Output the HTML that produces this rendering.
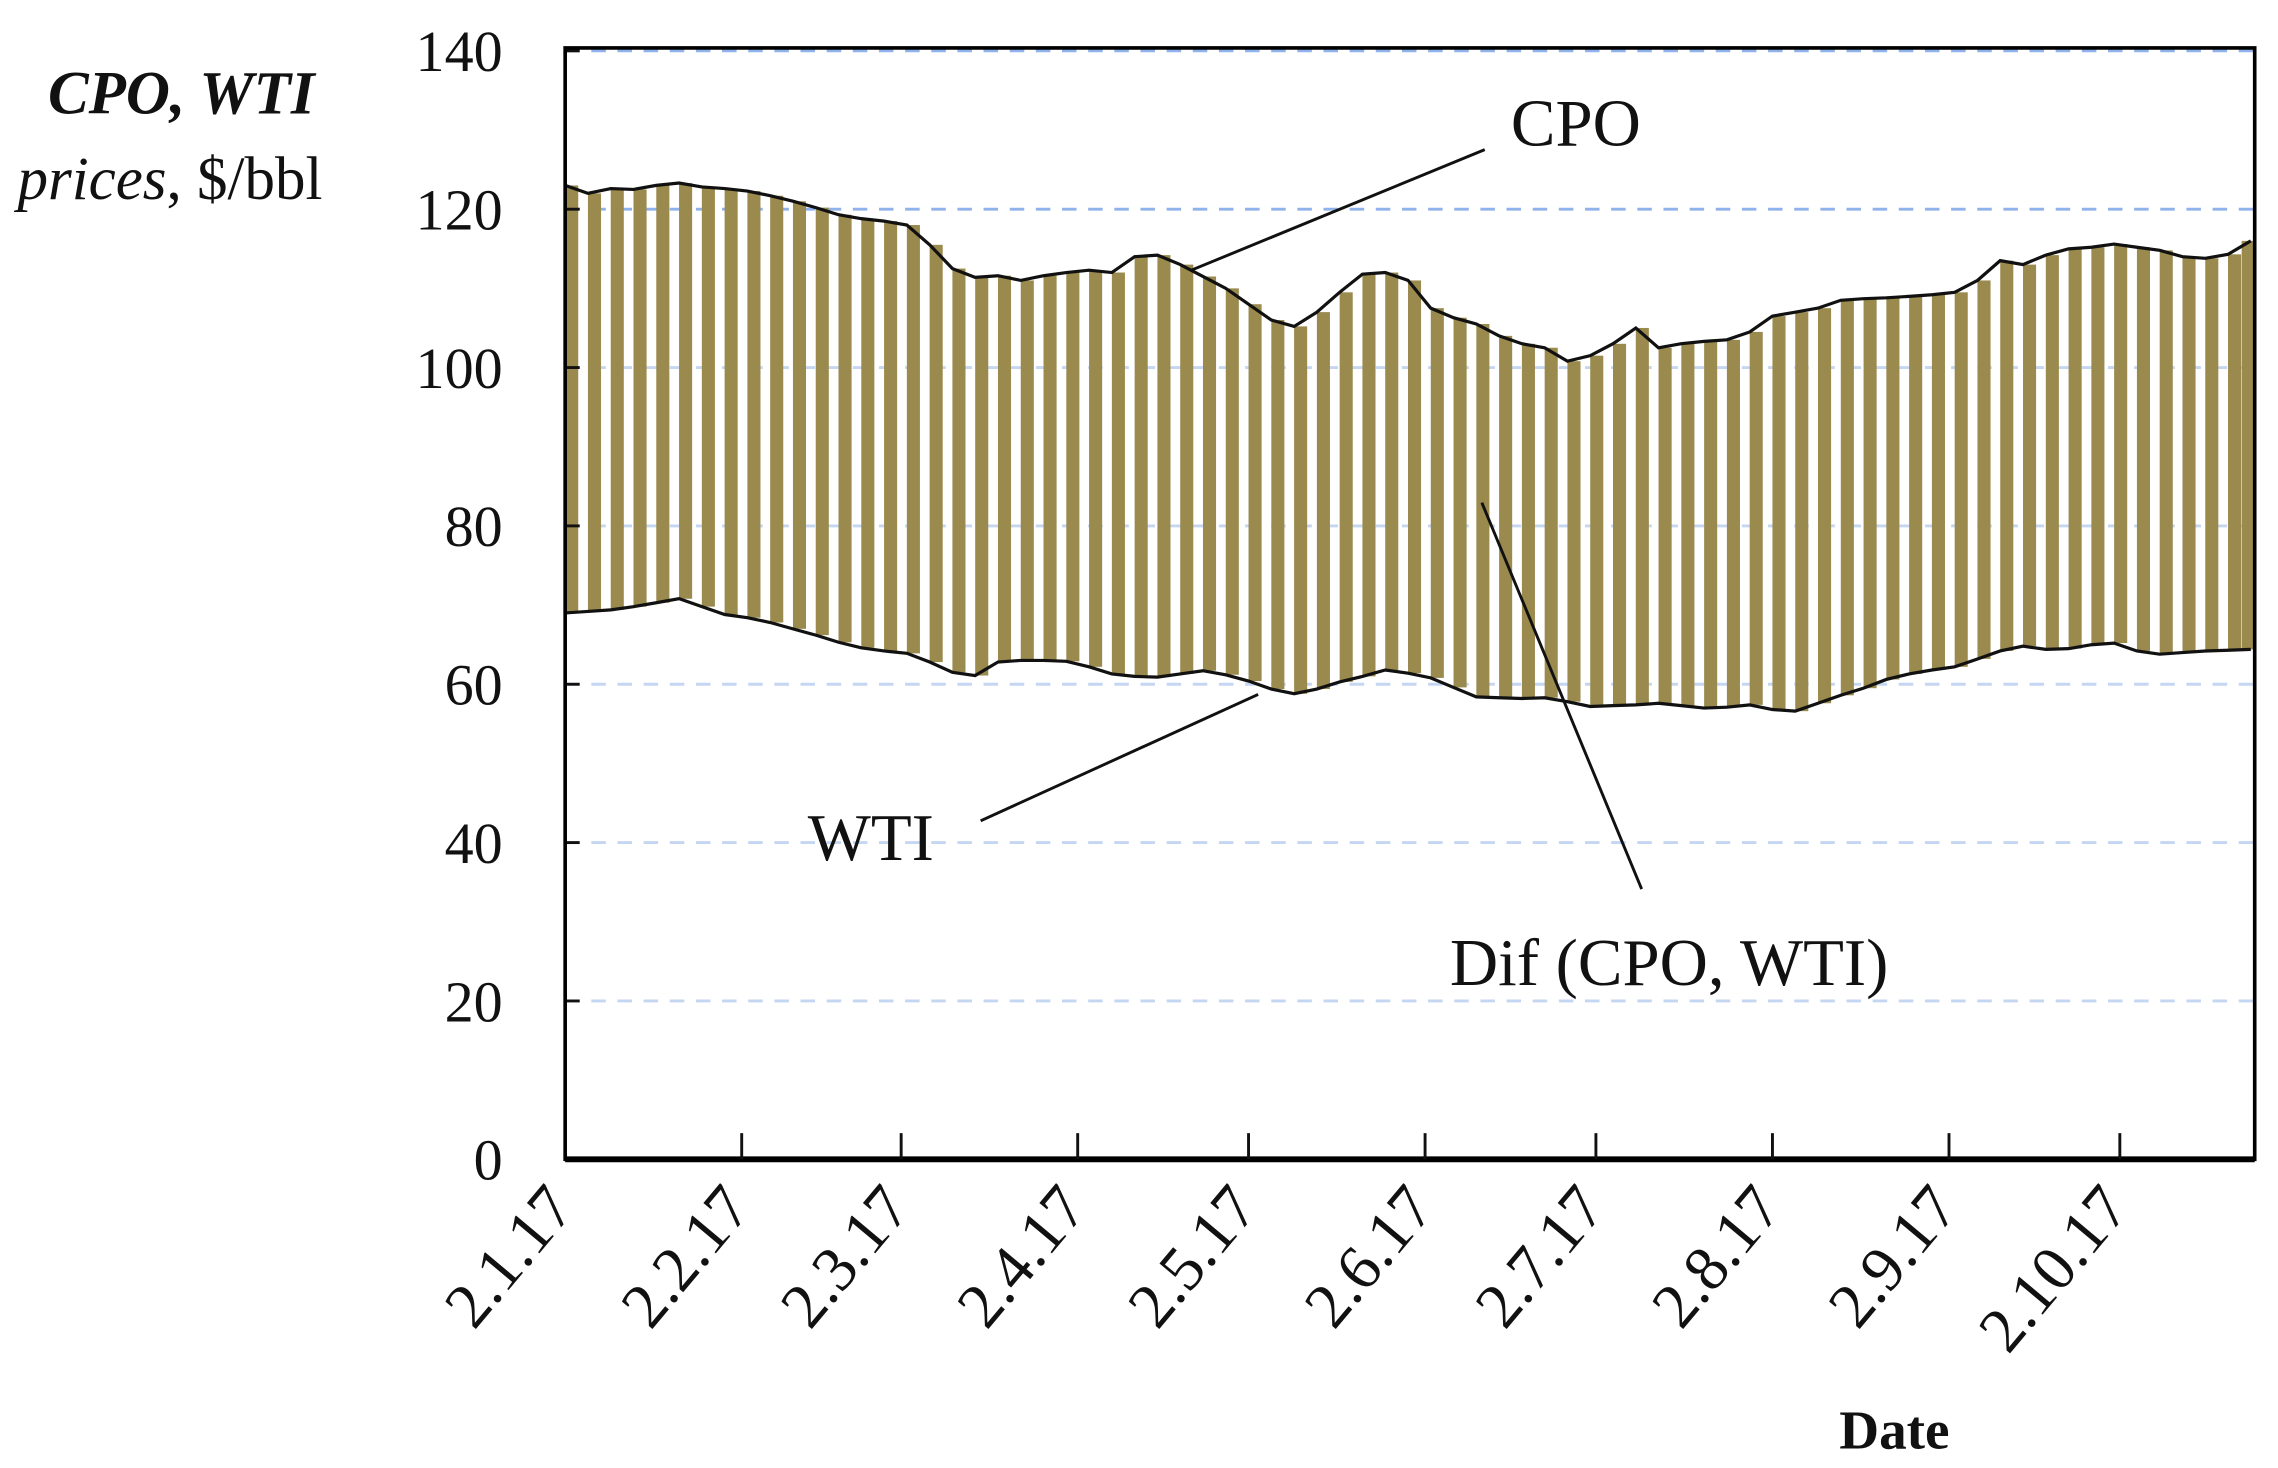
<!DOCTYPE html>
<html><head><meta charset="utf-8"><style>
html,body{margin:0;padding:0;background:#fff}
svg{display:block}
text{font-family:"Liberation Serif",serif;fill:#111}
</style></head><body>
<svg id="chart" width="2278" height="1468" viewBox="0 0 1568 1010.5" xmlns="http://www.w3.org/2000/svg">
<g id="grid"></g>
<g id="bars"></g>
<g id="lines"></g>
<g id="axes"></g>
<g>
<text x="33" y="78" font-size="42" font-style="italic" font-weight="bold">CPO, WTI</text>
<text x="12" y="137" font-size="42"><tspan font-style="italic">prices</tspan>, $/bbl</text>
</g>
<text x="1266" y="997" font-size="38" font-weight="bold">Date</text>
<g stroke="#111" stroke-width="2">
<line x1="1022" y1="103" x2="820" y2="186"/>
<line x1="675" y1="565" x2="866" y2="478"/>
<line x1="1020" y1="346" x2="1130" y2="612"/>
</g>
<text x="1040" y="100" font-size="46">CPO</text>
<text x="556" y="592" font-size="46">WTI</text>
<text x="998" y="678" font-size="46">Dif (CPO, WTI)</text>
</svg>
<script>
const days=[0,4,8,12,16,20,24,28,32,36,40,44,48,52,56,60,64,68,72,76,80,84,88,92,96,100,104,108,112,116,120,124,128,132,136,140,144,148,152,156,160,164,168,172,176,180,184,188,192,196,200,204,208,212,216,220,224,228,232,236,240,244,248,252,256,260,264,268,272,276,280,284,288,292,296];
const cpo=[123,122,122.6,122.5,123,123.3,122.8,122.6,122.3,121.7,121,120.2,119.3,118.8,118.5,118,115.5,112.5,111.4,111.6,111,111.6,112,112.3,112,114,114.2,113,111.5,110,108,106,105.2,107,109.5,111.8,112,111,107.5,106.3,105.5,104,103,102.5,100.8,101.5,103,105,102.5,103,103.3,103.5,104.5,106.5,107,107.5,108.5,108.7,108.8,109,109.2,109.5,111,113.5,113,114.2,115,115.2,115.6,115.2,114.8,114,113.8,114.3,116];
const wti=[69,69.2,69.4,69.8,70.3,70.8,69.8,68.8,68.4,67.8,67,66.2,65.3,64.6,64.2,63.9,62.8,61.5,61.1,62.8,63,63,62.9,62.2,61.3,61,60.9,61.3,61.7,61.2,60.4,59.4,58.8,59.4,60.3,61,61.8,61.4,60.8,59.6,58.4,58.3,58.2,58.3,57.8,57.2,57.3,57.4,57.6,57.3,57,57.1,57.4,56.8,56.6,57.6,58.6,59.5,60.6,61.3,61.8,62.2,63.2,64.2,64.8,64.4,64.5,65,65.2,64.2,63.8,64,64.2,64.3,64.4];
const yTicks=[0,20,40,60,80,100,120,140];
const monthDays=[0,31,59,90,120,151,181,212,243,273];
const monthLabels=["2.1.17","2.2.17","2.3.17","2.4.17","2.5.17","2.6.17","2.7.17","2.8.17","2.9.17","2.10.17"];

const NS="http://www.w3.org/2000/svg";
const L=389,R=1552,T=33,B=798;
const X=d=>L+d*3.92;
const Y=v=>B-v*(B-35)/140;
function mk(t,a,p){const e=document.createElementNS(NS,t);for(const k in a)e.setAttribute(k,a[k]);p.appendChild(e);return e;}
const grid=document.getElementById('grid'),bars=document.getElementById('bars'),lines=document.getElementById('lines'),axes=document.getElementById('axes');
yTicks.forEach(v=>{
  if(v>0){const g=mk('line',{x1:L,x2:R,y1:Y(v),y2:Y(v),stroke:v>=120?'#8fb2ea':'#c5d6f2','stroke-width':2,'stroke-dasharray':'10 8'},grid);
  
  }
  const t=mk('text',{x:346,y:Y(v)+14,'text-anchor':'end','font-size':40},axes);t.textContent=v;
  
  
  const tk=mk('line',{x1:L,x2:L+10,y1:Y(v),y2:Y(v),stroke:'#111','stroke-width':2},axes);
  
  
});
days.forEach((d,i)=>{
  const x=Math.min(X(d),R-9);
  const r=mk('rect',{x:x,y:Y(cpo[i]),width:9,height:Y(wti[i])-Y(cpo[i]),fill:'#9a8a4e'},bars);
  
  
});
[[cpo,'cpo-line'],[wti,'wti-line']].forEach(([s,n])=>{
  const pts=days.map((d,i)=>X(d).toFixed(1)+','+Y(s[i]).toFixed(1)).join(' ');
  const p=mk('polyline',{points:pts,fill:'none',stroke:'#111','stroke-width':2.2},lines);
  
  
});
const frame=mk('rect',{x:L,y:T,width:R-L,height:B-T,fill:'none',stroke:'#000','stroke-width':2.5},axes);


mk('line',{x1:L,x2:R,y1:B,y2:B,stroke:'#000','stroke-width':4},axes);
monthDays.forEach((d,i)=>{
  const x=X(d);
  if(i>0){const tk=mk('line',{x1:x,x2:x,y1:B,y2:B-18,stroke:'#111','stroke-width':2},axes);
  
  }
  const t=mk('text',{x:x+8,y:832,'text-anchor':'end','font-size':44,transform:`rotate(-50 ${x+8} 832)`},axes);
  t.textContent=monthLabels[i];
  
  
});
</script>
</body></html>
